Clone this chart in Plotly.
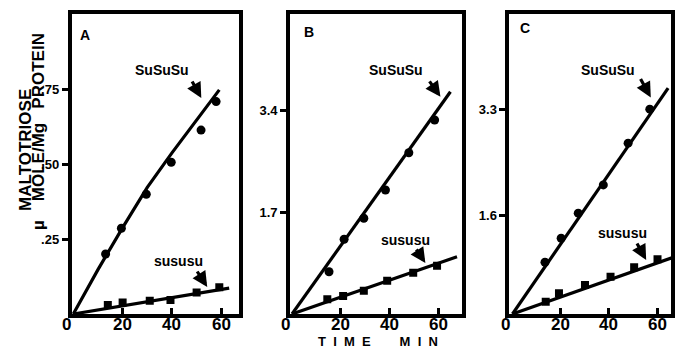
import plotly.graph_objects as go

FONT = "Liberation Sans"

# ---------------- data ----------------
# Panel A
a_top_t = [13.1, 19.5, 29.6, 39.7, 51.8, 57.9]
a_top_v = [0.200, 0.286, 0.399, 0.506, 0.613, 0.708]
a_top_fit_t = [0, 10, 20, 30, 40, 50, 59.2]
a_top_fit_v = [0, 0.148, 0.288, 0.422, 0.537, 0.645, 0.747]
a_bot_t = [14.0, 20.0, 31.0, 39.4, 50.0, 59.2]
a_bot_v = [0.030, 0.038, 0.044, 0.047, 0.072, 0.089]
a_bot_fit_t = [0, 63.2]
a_bot_fit_v = [0, 0.086]

# Panel B
b_top_t = [15.2, 21.4, 29.5, 38.4, 48.0, 58.6]
b_top_v = [0.705, 1.245, 1.595, 2.067, 2.688, 3.233]
b_top_fit_t = [0, 65.1]
b_top_fit_v = [0, 3.705]
b_bot_t = [14.5, 21.0, 29.5, 39.1, 49.8, 59.6]
b_bot_v = [0.245, 0.300, 0.388, 0.555, 0.688, 0.805]
b_bot_fit_t = [0, 67.8]
b_bot_fit_v = [0, 0.955]

# Panel C
c_top_t = [13.5, 20.2, 27.3, 37.7, 48.0, 57.0]
c_top_v = [0.837, 1.225, 1.630, 2.087, 2.762, 3.312]
c_top_fit_t = [0, 64.6]
c_top_fit_v = [0, 3.652]
c_bot_t = [13.8, 19.3, 30.1, 40.7, 50.5, 60.2]
c_bot_v = [0.199, 0.335, 0.469, 0.604, 0.756, 0.885]
c_bot_fit_t = [0, 66.7]
c_bot_fit_v = [0, 0.917]

x_ticks = [0, 20, 40, 60]
x_ticklabels = ["0", "20", "40", "60"]
a_yticks = [0.25, 0.50, 0.75]
a_ylabels = [".25", ".50", ".75"]
b_yticks = [1.7, 3.4]
b_ylabels = ["1.7", "3.4"]
c_yticks = [1.6, 3.3]
c_ylabels = ["1.6", "3.3"]

panel_letters = ["A", "B", "C"]
top_label = "SuSuSu"
bot_label = "sususu"

# ---------------- figure ----------------
W, H = 675, 349
fig = go.Figure()

panels = [
    dict(xa="x", ya="y", top=(a_top_t, a_top_v, a_top_fit_t, a_top_fit_v),
         bot=(a_bot_t, a_bot_v, a_bot_fit_t, a_bot_fit_v)),
    dict(xa="x2", ya="y2", top=(b_top_t, b_top_v, b_top_fit_t, b_top_fit_v),
         bot=(b_bot_t, b_bot_v, b_bot_fit_t, b_bot_fit_v)),
    dict(xa="x3", ya="y3", top=(c_top_t, c_top_v, c_top_fit_t, c_top_fit_v),
         bot=(c_bot_t, c_bot_v, c_bot_fit_t, c_bot_fit_v)),
]

for p in panels:
    tt, tv, ft, fv = p["top"]
    fig.add_trace(go.Scatter(x=ft, y=fv, mode="lines", xaxis=p["xa"], yaxis=p["ya"],
                             line=dict(color="black", width=3.2), showlegend=False))
    fig.add_trace(go.Scatter(x=tt, y=tv, mode="markers", xaxis=p["xa"], yaxis=p["ya"],
                             marker=dict(symbol="circle", size=9, color="black"),
                             showlegend=False))
    bt, bv, bft, bfv = p["bot"]
    fig.add_trace(go.Scatter(x=bft, y=bfv, mode="lines", xaxis=p["xa"], yaxis=p["ya"],
                             line=dict(color="black", width=3.2), showlegend=False))
    fig.add_trace(go.Scatter(x=bt, y=bv, mode="markers", xaxis=p["xa"], yaxis=p["ya"],
                             marker=dict(symbol="square", size=8, color="black"),
                             showlegend=False))

ydom = [1 - 314 / H, 1 - 14 / H]

def xaxis(dom, rng):
    return dict(domain=dom, range=rng, showgrid=False, zeroline=False,
                showline=True, mirror=True, linecolor="black", linewidth=4,
                ticks="inside", ticklen=6, tickwidth=3, tickcolor="black",
                tickvals=x_ticks[1:], showticklabels=False,
                fixedrange=True)

def yaxis(anchor, rng, vals, labels):
    return dict(domain=ydom, range=rng, anchor=anchor, showgrid=False, zeroline=False,
                showline=True, mirror=True, linecolor="black", linewidth=4,
                ticks="outside", ticklen=6, tickwidth=3, tickcolor="black",
                tickvals=vals, ticktext=labels,
                tickfont=dict(family=FONT, size=13, color="black", weight="bold"),
                fixedrange=True)

fig.update_layout(
    width=W, height=H, autosize=False,
    margin=dict(l=0, r=0, t=0, b=0),
    paper_bgcolor="white", plot_bgcolor="white",
    xaxis=dict(xaxis([72 / W, 240 / W], [-0.61, 67.3]), anchor="y"),
    yaxis=yaxis("x", [0, 1.0], a_yticks, a_ylabels),
    xaxis2=dict(xaxis([291 / W, 463 / W], [-0.78, 69.7]), anchor="y2"),
    yaxis2=yaxis("x2", [0, 5.0], b_yticks, b_ylabels),
    xaxis3=dict(xaxis([511 / W, 673 / W], [-1.24, 65.8]), anchor="y3"),
    yaxis3=yaxis("x3", [0, 4.85], c_yticks, c_ylabels),
)

ann = []
bold = lambda s: dict(family=FONT, size=s, color="black", weight="bold")

# panel letters and x tick labels
for xr, letter, (lx, ly) in zip(["x", "x2", "x3"], panel_letters,
                                [(4.6, 0.93), (7.0, 4.7), (5.4, 4.63)]):
    yr = xr.replace("x", "y")
    ann.append(dict(x=lx, y=ly, xref=xr, yref=yr, text=letter, showarrow=False,
                    font=bold(14)))
    for v, t in zip(x_ticks, x_ticklabels):
        ann.append(dict(x=v, y=1 - 324 / H, xref=xr, yref="paper", text=t,
                        showarrow=False, xanchor="center", yanchor="middle",
                        borderpad=0,
                        xshift=-7 if v == 0 else 0, font=bold(17)))

# curve labels and arrows: (xref, yref, text_x, text_y, head_x, head_y, ax, ay, label)
labels = [
    ("x", "y", 36.1, 0.813, 51.9, 0.72, -10, -18, top_label),
    ("x", "y", 42.6, 0.177, 54.3, 0.09, -11, -17, bot_label),
    ("x2", "y2", 42.7, 4.07, 61.0, 3.62, -12, -17, top_label),
    ("x2", "y2", 46.8, 1.23, 54.8, 0.85, -10, -15, bot_label),
    ("x3", "y3", 39.8, 3.95, 57.4, 3.50, -11, -20, top_label),
    ("x3", "y3", 45.5, 1.31, 55.5, 0.874, -10, -18, bot_label),
]
for xr, yr, tx, ty, hx, hy, ax, ay, txt in labels:
    ann.append(dict(x=tx, y=ty, xref=xr, yref=yr, text=txt, showarrow=False,
                    font=bold(14)))
    ann.append(dict(x=hx, y=hy, xref=xr, yref=yr, text="", showarrow=True,
                    ax=ax, ay=ay, arrowhead=2, arrowsize=0.95, arrowwidth=3.2,
                    arrowcolor="black", standoff=0))

# y-axis title (two lines)
ann.append(dict(x=25 / W, y=1 - 150 / H, xref="paper", yref="paper", text="MALTOTRIOSE",
                xanchor="center", yanchor="middle",
                textangle=-90, showarrow=False, font=bold(17)))
ann.append(dict(x=38 / W, y=1 - 131 / H, xref="paper", yref="paper",
                xanchor="center", yanchor="middle",
                text="\u00b5" + "\u00a0" * 4 + "MOLE/Mg" + "\u00a0" * 3 + "PROTEIN",
                textangle=-90, showarrow=False, font=bold(17)))
# x-axis title
ann.append(dict(x=379 / W, y=1 - 341 / H, xref="paper", yref="paper",
                xanchor="center", yanchor="middle", borderpad=0,
                text="T\u00a0\u00a0I\u00a0\u00a0M\u00a0\u00a0E\u00a0\u00a0\u00a0\u00a0\u00a0\u00a0\u00a0\u00a0M\u00a0\u00a0I\u00a0\u00a0N",
                showarrow=False, font=bold(13)))

fig.update_layout(annotations=ann)
fig.write_html("out.html")
